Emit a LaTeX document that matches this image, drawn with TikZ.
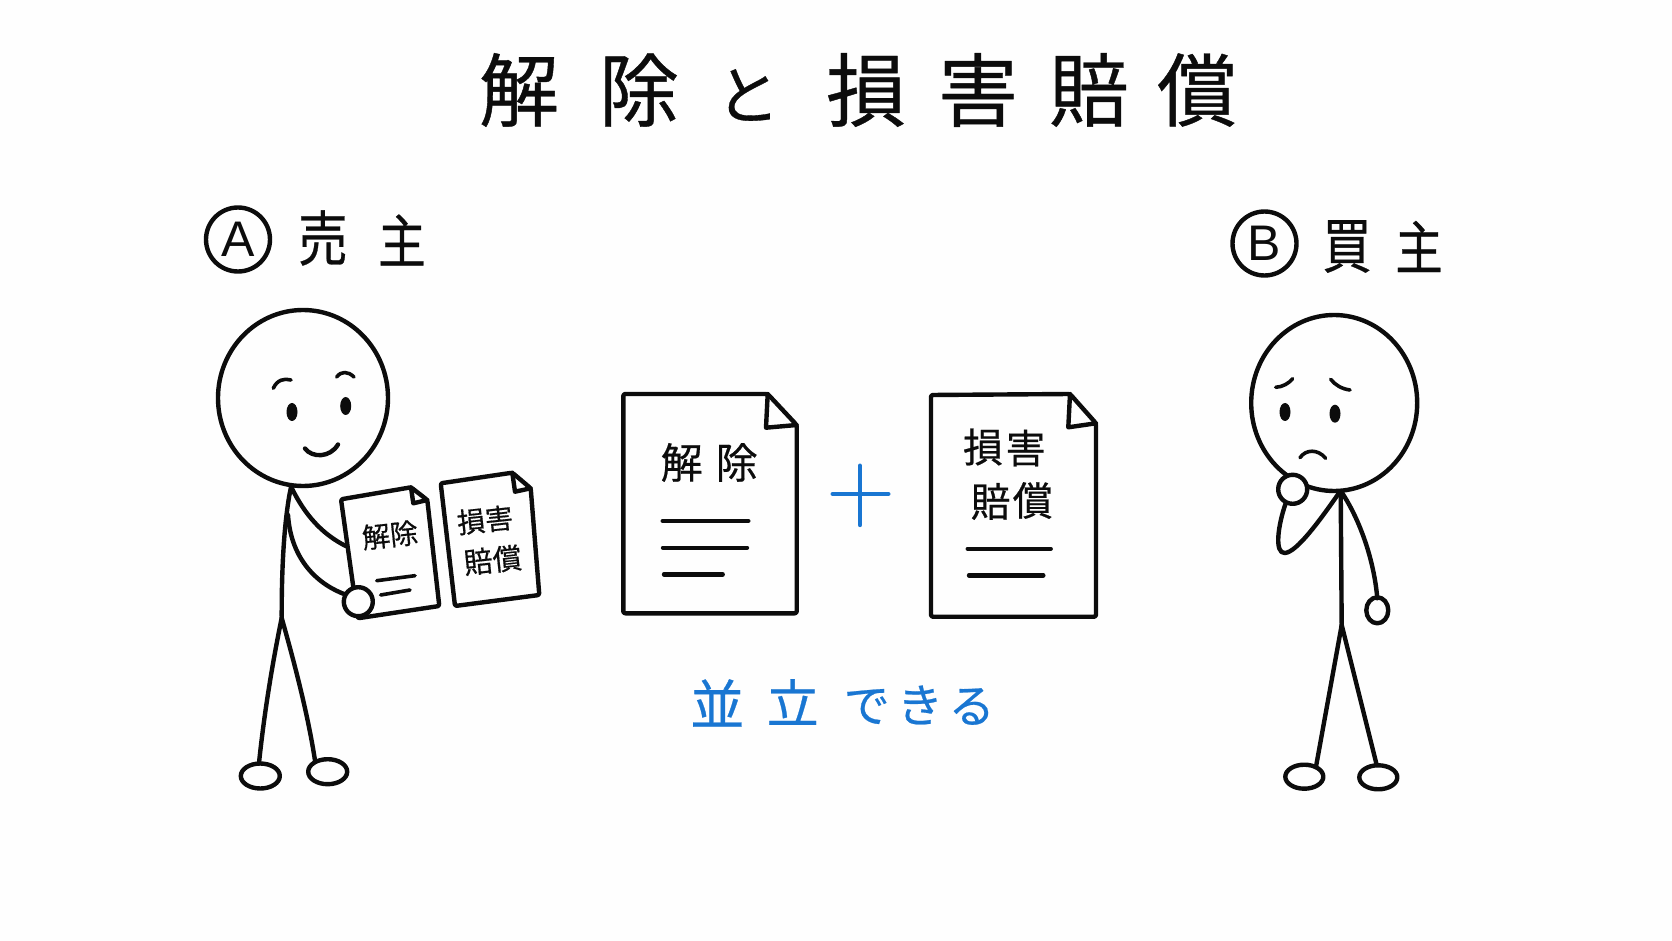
\documentclass[tikz,border=0pt]{standalone}
\usepackage{fontspec}
\newfontfamily\cjk[FakeBold=0.5]{Noto Sans CJK JP}
\newfontfamily\cjknarrow[FakeBold=0.5,FakeStretch=0.82]{Noto Sans CJK JP}
\setmainfont{Liberation Sans}
\definecolor{inkblue}{HTML}{1976D2}
\definecolor{paper}{HTML}{FEFEFE}
\definecolor{inkblack}{HTML}{0C0C0C}
\tikzset{
  kan/.style={font=\cjk\fontsize{#1}{#1}\selectfont, inner sep=0pt, text=inkblack},
  kannarrow/.style={font=\cjknarrow\fontsize{#1}{#1}\selectfont, inner sep=0pt, text=inkblack},
  kanblue/.style={font=\cjk\fontsize{#1}{#1}\selectfont, inner sep=0pt, text=inkblue},
  ink/.style={draw=inkblack, line width=2.2pt, line cap=round, line join=round},
  thinink/.style={draw=inkblack, line width=1.8pt, line cap=round, line join=round},
  sheet/.style={ink, fill=paper, rounded corners=1pt},
  plusline/.style={draw=inkblue, line width=2.2pt, line cap=round},
  badge/.style={draw=inkblack, line width=2.2pt, circle, minimum size=32pt, inner sep=0pt,
                font=\fontsize{25}{25}\selectfont, text=inkblack}
}
\begin{document}
\begin{tikzpicture}[x=0.5pt,y=-0.5pt]
\useasboundingbox (0,0) rectangle (1672,941);
\fill[paper] (0,0) rectangle (1672,941);

% title
\node[kan=40] (t1) at (519,90) {解};
\node[kan=40] (t2) at (639,90) {除};
\node[kan=32] (t3) at (748,95) {と};
\node[kan=40] (t4) at (866,90) {損};
\node[kan=40] (t5) at (978,90) {害};
\node[kan=40] (t6) at (1089,90) {賠};
\node[kan=40] (t7) at (1197,90) {償};

% party labels
\node[badge] (badgeA) at (238,239.5) {A};
\node[kannarrow=30] (seller1) at (323,238) {売};
\node[kannarrow=29] (seller2) at (402,240) {主};
\node[badge] (badgeB) at (1264.5,243.5) {B};
\node[kannarrow=30] (buyer1) at (1347,246.5) {買};
\node[kannarrow=29] (buyer2) at (1419,246.5) {主};

% seller figure
\draw[ink] (303,398) circle [x radius=85, y radius=88];
\fill[inkblack] (292,412) circle [x radius=5.5, y radius=9];
\fill[inkblack] (345.7,406) circle [x radius=5.5, y radius=9];
\draw[thinink] (273.3,388.3) .. controls (277,380) and (284,378) .. (291,380);
\draw[thinink] (336.7,377) .. controls (341,371) and (348,371) .. (354,377);
\draw[ink] (305,448.5) .. controls (312,458) and (330,458) .. (338,444.5);
\draw[ink] (291,487) .. controls (285,515) and (281.5,560) .. (281.7,618);
\draw[ink] (281.7,618) .. controls (272,665) and (264,715) .. (259,763);
\draw[ink] (281.7,618) .. controls (295,665) and (308,715) .. (315,760.5);
\draw[ink] (260.3,776) circle [x radius=19.5, y radius=12.5];
\draw[ink] (327.7,771.7) circle [x radius=19.5, y radius=12.5];
\draw[ink] (291.7,488) .. controls (305,515) and (322,534) .. (345.7,546);
\draw[ink] (288,515) .. controls (291,560) and (318,585) .. (346.7,595);

% papers held by the seller
\draw[sheet] (341,499.3) -- (411,487.3) -- (427.3,500) -- (439.3,606) -- (357.7,618.3) -- cycle;
\draw[ink] (411,487.3) -- (413.3,503.3) -- (427.3,500);
\node[kan=14,rotate=6] (heldA) at (390,535) {解除};
\draw[thinink] (376.7,580.7) -- (415,575.7);
\draw[thinink] (380.7,595) -- (410,590);
\draw[ink, fill=paper] (358.3,601.7) circle [radius=14.5];

\draw[sheet] (440.7,483.3) -- (512.3,472.7) -- (530.7,488.3) -- (539.3,595) -- (455,606) -- cycle;
\draw[ink] (512.3,472.7) -- (515,491.7) -- (530.7,488.3);
\node[kan=14,rotate=6] (heldB) at (485,520) {損害};
\node[kan=14.5,rotate=6] (heldC) at (492.7,560) {賠償};

% centre documents
\draw[sheet] (623.3,394) -- (767.7,394) -- (796.7,425) -- (796.7,613.3) -- (623.3,613.3) -- cycle;
\draw[ink] (767.7,394) -- (766,427.7) -- (796.7,425);
\node[kan=21] (d1a) at (681.7,462.5) {解};
\node[kan=21] (d1b) at (736.7,462.5) {除};
\draw[ink] (662.7,521) -- (748.3,521);
\draw[ink] (663,547.7) -- (747,547.7);
\draw[ink] (664,574.3) -- (722.7,574.3);

\draw[plusline] (832.7,494) -- (888.3,494);
\draw[plusline] (860,465.7) -- (860,525);

\draw[sheet] (931,395) -- (1070,394) -- (1096,423.3) -- (1096,616.7) -- (931,616.7) -- cycle;
\draw[ink] (1070,394) -- (1068.3,427.3) -- (1096,423.3);
\node[kan=20] (d2a) at (983,447) {損};
\node[kan=20] (d2b) at (1025.7,448) {害};
\node[kan=20] (d2c) at (990.7,501.5) {賠};
\node[kan=20] (d2d) at (1032.7,500.5) {償};
\draw[ink] (967.7,548.7) -- (1050.7,548.7);
\draw[ink] (969,575.3) -- (1043.3,575.3);

% caption
\node[kanblue=27] (c1) at (717.3,703) {並};
\node[kanblue=26] (c2) at (792.7,702) {立};
\node[kanblue=23] (c3) at (866.7,706.5) {で};
\node[kanblue=23] (c4) at (920,705) {き};
\node[kanblue=23] (c5) at (971.7,706.5) {る};

% buyer figure
\draw[ink] (1334.2,403) circle [x radius=83, y radius=88];
\fill[inkblack] (1285,412) circle [x radius=5.5, y radius=9];
\fill[inkblack] (1335,413.7) circle [x radius=5.5, y radius=9];
\draw[thinink] (1275.7,387.3) .. controls (1283,387) and (1289,383) .. (1292.7,378.7);
\draw[thinink] (1330.7,379.3) .. controls (1335,385) and (1342,389) .. (1350,390);
\draw[thinink] (1300,457.7) .. controls (1306,449) and (1318,449) .. (1325.7,458.3);
\draw[ink] (1340.7,491.7) -- (1341.7,625);
\draw[ink] (1341.7,625) -- (1316,766.7);
\draw[ink] (1341.7,625) -- (1376.7,765);
\draw[ink] (1304.3,776.7) circle [x radius=19, y radius=12];
\draw[ink] (1378.3,777.3) circle [x radius=19, y radius=12];
\draw[ink] (1341.7,492.3) .. controls (1360,520) and (1374,560) .. (1377.3,598.3);
\draw[ink] (1377.3,610.3) circle [x radius=11, y radius=13];
\draw[ink] (1338.3,494) .. controls (1320,520) and (1297,552) .. (1285,553)
  .. controls (1274,554) and (1278,525) .. (1285.7,503.3);
\draw[ink, fill=paper] (1292.7,489.3) circle [radius=14.5];
\end{tikzpicture}
\end{document}
